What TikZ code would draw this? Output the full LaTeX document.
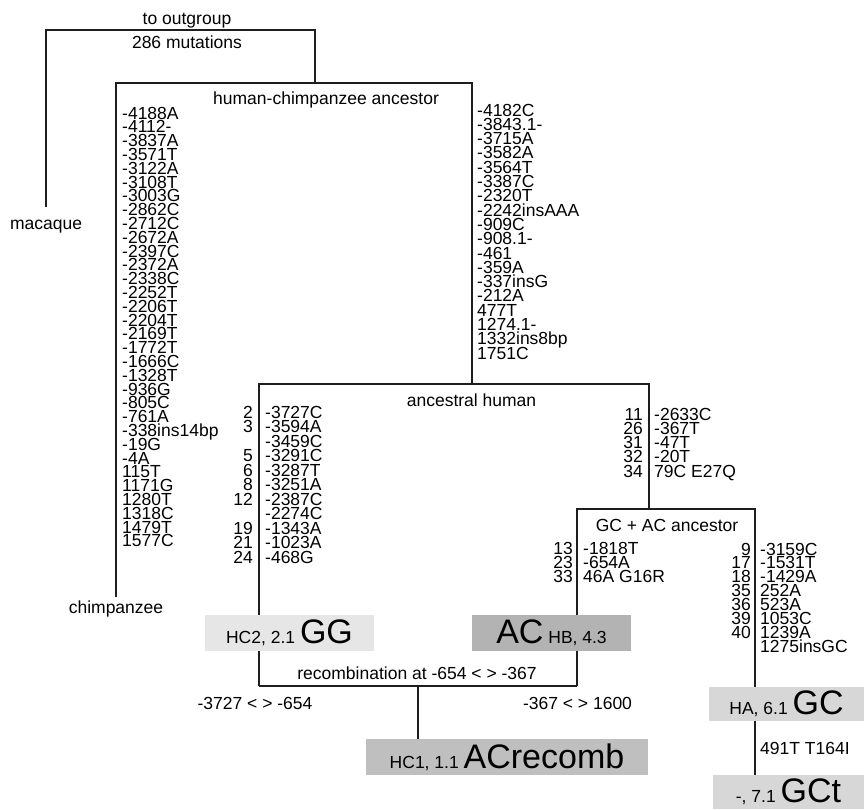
\documentclass[tikz,border=0pt]{standalone}
\usepackage{fontspec}
\setmainfont{Liberation Sans}
\definecolor{lineC}{HTML}{1E1E1E}
\definecolor{boxA}{HTML}{E6E6E6}
\definecolor{boxB}{HTML}{B3B3B3}
\definecolor{boxC}{HTML}{BFBFBF}
\definecolor{boxD}{HTML}{D7D7D7}
\begin{document}
\begin{tikzpicture}[x=1pt,y=-1pt,
  br/.style={draw=lineC, line width=1.3pt},
  lbl/.style={inner sep=0pt, anchor=base, font=\fontsize{17.5}{17.5}\selectfont},
  lst/.style={inner sep=0pt, text height=11pt, text depth=1pt, font=\fontsize{17.5}{14}\selectfont},
  tagbox/.style={inner sep=0pt, font=\fontsize{17.5}{17.5}\selectfont, minimum height=36pt},
]
\newcommand{\bigtx}[1]{{\fontsize{34}{34}\selectfont #1}}
\useasboundingbox (0,0) rectangle (864,809);

% tree corners
\coordinate (og) at (46,30);
\coordinate (ogR) at (315,30);
\coordinate (mac) at (46,207);
\coordinate (hcJ) at (315,83);
\coordinate (hcL) at (116,83);
\coordinate (hcR) at (472,83);
\coordinate (chimp) at (116,597);
\coordinate (ahL) at (259,384);
\coordinate (ahR) at (649,384);
\coordinate (ahJ) at (472,384);
\coordinate (recL) at (259,686);
\coordinate (recR) at (577,686);
\coordinate (recM) at (418,686);
\coordinate (gcL) at (577,509);
\coordinate (gcR) at (755,509);
\coordinate (gcJ) at (649,509);

% lower tag boxes (lines end at their edges)
\node[tagbox, fill=boxC, minimum width=282pt] (HC1) at (507,757) {HC1, 1.1\ \bigtx{ACrecomb}};
\node[tagbox, fill=boxD, minimum width=151pt, minimum height=34pt, anchor=north] (GCt) at (788.5,775) {-, 7.1\ \bigtx{GCt}};

% branches
\draw[br] (mac) -- (og) -- (ogR) -- (hcJ);
\draw[br] (chimp) -- (hcL) -- (hcR) -- (ahJ);
\draw[br] (recL) -- (ahL) -- (ahR) -- (gcJ);
\draw[br] (recR) -- (gcL) -- (gcR) -- (gcR |- GCt.north);
\draw[br] (recL) -- (recR);
\draw[br] (recM) -- (recM |- HC1.north);

% tag boxes lying over branches
\node[tagbox, fill=boxA, minimum width=169pt] (HC2) at (289.5,633) {HC2, 2.1\ \bigtx{GG}};
\node[tagbox, fill=boxB, minimum width=159pt] (HB) at (551.5,633) {\bigtx{AC}\ HB, 4.3};
\node[tagbox, fill=boxD, minimum width=155pt, minimum height=34pt] (HA) at (786.5,704) {HA, 6.1\ \bigtx{GC}};

% labels
\node[lbl] (tout) at (187,24) {to outgroup};
\node[lbl] (tmut) at (187,48) {286 mutations};
\node[lbl] (tmac) at (46,229) {macaque};
\node[lbl] (tchi) at (116,613) {chimpanzee};
\node[lbl, anchor=base west] (thc) at (213,104) {human-chimpanzee ancestor};
\node[lbl] (tah) at (471.5,406) {ancestral human};
\node[lbl] (tgc) at (667,531) {GC + AC ancestor};
\node[lbl] (trec) at (417,679) {recombination at -654 < > -367};
\node[lbl] (tl) at (255,709) {-3727 < > -654};
\node[lbl] (tr) at (577.5,709) {-367 < > 1600};
\node[lbl, anchor=base west] (tgct) at (760,754) {491T T164I};

% chimpanzee branch list
\foreach \m [count=\i from 0] in {-4188A,-4112-,-3837A,-3571T,-3122A,-3108T,-3003G,-2862C,-2712C,-2672A,-2397C,-2372A,-2338C,-2252T,-2206T,-2204T,-2169T,-1772T,-1666C,-1328T,-936G,-805C,-761A,-338ins14bp,-19G,-4A,115T,1171G,1280T,1318C,1479T,1577C}
  \node[lst, anchor=base west] (c\i) at (122,{119+\i*13.8}) {\m};

% human branch list
\foreach \m [count=\i from 0] in {-4182C,-3843.1-,-3715A,-3582A,-3564T,-3387C,-2320T,-2242insAAA,-909C,-908.1-,-461,-359A,-337insG,-212A,477T,1274.1-,1332ins8bp,1751C}
  \node[lst, anchor=base west] (h\i) at (477,{116+\i*14.3}) {\m};

% HC2 branch list
\foreach \n/\m [count=\i from 0] in {2/-3727C,3/-3594A,/-3459C,5/-3291C,6/-3287T,8/-3251A,12/-2387C,/-2274C,19/-1343A,21/-1023A,24/-468G}{
  \node[lst, anchor=base east] (an\i) at (253,{418+\i*14.5}) {\n};
  \node[lst, anchor=base west] (am\i) at (265,{418+\i*14.5}) {\m};
}

% GC+AC ancestor branch list
\foreach \n/\m [count=\i from 0] in {11/-2633C,26/-367T,31/-47T,32/-20T,34/79C E27Q}{
  \node[lst, anchor=base east] (bn\i) at (643,{420+\i*14.25}) {\n};
  \node[lst, anchor=base west] (bm\i) at (654,{420+\i*14.25}) {\m};
}

% AC branch list
\foreach \n/\m [count=\i from 0] in {13/-1818T,23/-654A,33/46A G16R}{
  \node[lst, anchor=base east] (dn\i) at (573,{554+\i*14}) {\n};
  \node[lst, anchor=base west] (dm\i) at (583,{554+\i*14}) {\m};
}

% GC branch list
\foreach \n/\m [count=\i from 0] in {9/-3159C,17/-1531T,18/-1429A,35/252A,36/523A,39/1053C,40/1239A,/1275insGC}{
  \node[lst, anchor=base east] (en\i) at (751,{555+\i*13.9}) {\n};
  \node[lst, anchor=base west] (em\i) at (760,{555+\i*13.9}) {\m};
}
\end{tikzpicture}
\end{document}
